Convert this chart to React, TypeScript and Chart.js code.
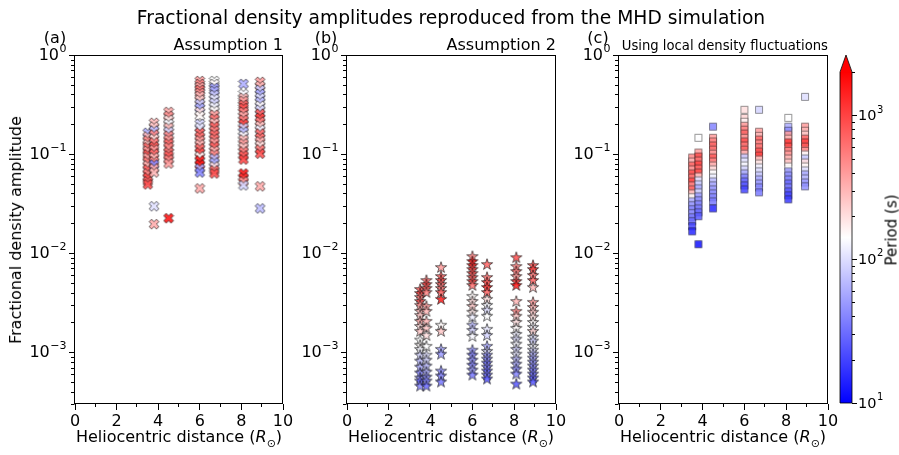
import React, { useEffect, useRef } from 'react';
import { Chart, registerables } from 'chart.js';
Chart.register(...registerables);

const FONT = "'DejaVu Sans', 'Liberation Sans', sans-serif";

// Heliocentric distances (R_sun) of the sampled columns
const distances = [3.5, 3.8, 4.5, 6.0, 6.7, 8.1, 8.9];

// Panel (a) Assumption 1: amplitudes and periods (s), one list per distance
const ampA = [
  [0.164, 0.150, 0.137, 0.125, 0.117, 0.108, 0.0989, 0.0923, 0.0841, 0.0766, 0.0699, 0.0637, 0.0580, 0.0529, 0.0494],
  [0.207, 0.189, 0.172, 0.157, 0.143, 0.131, 0.119, 0.111, 0.101, 0.0923, 0.0841, 0.0784, 0.0715, 0.0652, 0.0297, 0.0196],
  [0.267, 0.243, 0.222, 0.202, 0.185, 0.168, 0.153, 0.140, 0.128, 0.117, 0.104, 0.0966, 0.0881, 0.0803, 0.0225],
  [0.548, 0.511, 0.477, 0.445, 0.415, 0.387, 0.353, 0.322, 0.293, 0.267, 0.243, 0.202, 0.185, 0.164, 0.150, 0.137, 0.125, 0.114, 0.1036, 0.0945, 0.0861, 0.0784, 0.0715, 0.0652, 0.0450],
  [0.548, 0.511, 0.466, 0.435, 0.396, 0.361, 0.329, 0.300, 0.274, 0.249, 0.227, 0.207, 0.189, 0.172, 0.157, 0.143, 0.131, 0.119, 0.108, 0.0989, 0.0902, 0.0821, 0.0749, 0.0683, 0.0637],
  [0.511, 0.405, 0.370, 0.345, 0.314, 0.293, 0.267, 0.243, 0.222, 0.202, 0.185, 0.168, 0.153, 0.140, 0.128, 0.117, 0.106, 0.0966, 0.0881, 0.0637, 0.0580, 0.0529, 0.0483],
  [0.536, 0.488, 0.445, 0.405, 0.370, 0.337, 0.307, 0.280, 0.255, 0.232, 0.212, 0.193, 0.176, 0.161, 0.146, 0.134, 0.122, 0.111, 0.101, 0.0472, 0.0283],
];
const perA = [
  [60, 300, 500, 250, 700, 400, 900, 350, 600, 300, 800, 500, 1000, 700, 900],
  [300, 250, 70, 500, 200, 600, 800, 400, 700, 300, 500, 40, 350, 300, 100, 350],
  [350, 450, 180, 130, 300, 90, 500, 400, 700, 500, 600, 800, 500, 400, 1800],
  [400, 500, 350, 600, 450, 300, 250, 80, 60, 200, 150, 90, 110, 800, 600, 400, 300, 700, 900, 140, 1800, 1500, 60, 40, 350],
  [140, 150, 50, 60, 80, 110, 90, 130, 150, 400, 600, 250, 800, 500, 700, 600, 400, 800, 300, 500, 70, 60, 200, 700, 900],
  [60, 130, 300, 400, 700, 900, 500, 350, 600, 1000, 90, 70, 150, 300, 400, 250, 600, 800, 1000, 1800, 1200, 400, 90],
  [400, 300, 80, 60, 100, 70, 150, 90, 800, 1000, 500, 250, 120, 700, 600, 300, 200, 600, 900, 350, 70],
];

// Panel (b) Assumption 2
const ampB = [
  [0.00435, 0.00396, 0.00361, 0.00329, 0.00300, 0.00261, 0.00238, 0.00207, 0.00184, 0.00164, 0.00134, 0.00119, 0.00108, 0.000944, 0.000822, 0.000715, 0.000623, 0.000555, 0.000518, 0.000460],
  [0.00535, 0.00488, 0.00445, 0.00405, 0.00293, 0.00261, 0.00207, 0.00176, 0.00149, 0.00116, 0.000944, 0.000841, 0.000732, 0.000637, 0.000567, 0.000518, 0.000460],
  [0.00724, 0.00587, 0.00535, 0.00488, 0.00445, 0.00405, 0.00345, 0.00189, 0.00164, 0.00108, 0.000966, 0.000652, 0.000581, 0.000506],
  [0.00933, 0.00831, 0.00758, 0.00691, 0.00630, 0.00574, 0.00523, 0.00477, 0.00370, 0.00329, 0.00293, 0.00256, 0.00228, 0.00189, 0.00168, 0.00146, 0.00106, 0.000944, 0.000841, 0.000748, 0.000667, 0.000594],
  [0.00776, 0.00574, 0.00511, 0.00455, 0.00405, 0.00345, 0.00300, 0.00268, 0.00233, 0.00172, 0.00149, 0.00116, 0.00103, 0.000944, 0.000861, 0.000784, 0.000715, 0.000652, 0.000594, 0.000542],
  [0.00911, 0.00741, 0.00660, 0.00587, 0.00523, 0.00477, 0.00329, 0.00261, 0.00233, 0.00202, 0.00176, 0.00153, 0.00137, 0.00122, 0.00108, 0.000966, 0.000861, 0.000766, 0.000683, 0.000608, 0.000482],
  [0.00758, 0.00691, 0.00601, 0.00535, 0.00455, 0.00322, 0.00286, 0.00256, 0.00228, 0.00202, 0.00180, 0.00164, 0.00143, 0.00131, 0.00116, 0.00106, 0.000966, 0.000881, 0.000803, 0.000732, 0.000667, 0.000608, 0.000555, 0.000506],
];
const perB = [
  [700, 900, 500, 800, 400, 300, 250, 350, 200, 250, 140, 150, 130, 90, 70, 60, 40, 50, 30, 40],
  [600, 900, 700, 500, 400, 300, 300, 250, 200, 140, 100, 90, 70, 60, 45, 40, 30],
  [400, 700, 800, 600, 500, 700, 1500, 150, 250, 60, 50, 45, 40, 35],
  [500, 1500, 1200, 900, 800, 700, 900, 600, 150, 200, 250, 180, 120, 70, 90, 130, 50, 40, 45, 40, 50, 35],
  [700, 600, 900, 1200, 700, 200, 130, 100, 140, 110, 90, 60, 100, 50, 45, 35, 40, 30, 35, 25],
  [900, 500, 600, 400, 1000, 1500, 300, 500, 250, 200, 150, 120, 100, 130, 90, 110, 70, 60, 45, 40, 25],
  [800, 1000, 600, 700, 300, 400, 300, 250, 200, 150, 130, 220, 110, 90, 130, 100, 70, 60, 50, 45, 40, 35, 30, 25],
];

// Panel (c) Using local density fluctuations
const ampC = [
  [0.0923, 0.0841, 0.0766, 0.0699, 0.0637, 0.0580, 0.0529, 0.0483, 0.0440, 0.0401, 0.0366, 0.0333, 0.0304, 0.0277, 0.0253, 0.0230, 0.0210, 0.0187, 0.0166],
  [0.146, 0.1036, 0.0945, 0.0861, 0.0784, 0.0715, 0.0652, 0.0594, 0.0541, 0.0494, 0.0450, 0.0410, 0.0374, 0.0341, 0.0311, 0.0283, 0.0258, 0.0236, 0.0123],
  [0.189, 0.146, 0.134, 0.122, 0.111, 0.101, 0.0923, 0.0841, 0.0766, 0.0699, 0.0637, 0.0580, 0.0529, 0.0483, 0.0440, 0.0401, 0.0366, 0.0333, 0.0283],
  [0.280, 0.232, 0.212, 0.193, 0.176, 0.161, 0.146, 0.134, 0.122, 0.111, 0.101, 0.0923, 0.0841, 0.0766, 0.0699, 0.0637, 0.0580, 0.0529, 0.0483, 0.0440],
  [0.280, 0.168, 0.153, 0.140, 0.128, 0.117, 0.106, 0.0966, 0.0881, 0.0803, 0.0732, 0.0668, 0.0608, 0.0554, 0.0505, 0.0461, 0.0411],
  [0.232, 0.189, 0.172, 0.157, 0.143, 0.131, 0.119, 0.108, 0.0989, 0.0902, 0.0821, 0.0749, 0.0668, 0.0608, 0.0554, 0.0505, 0.0461, 0.0420, 0.0383, 0.0349],
  [0.378, 0.189, 0.172, 0.157, 0.143, 0.131, 0.119, 0.108, 0.0989, 0.0902, 0.0821, 0.0749, 0.0683, 0.0622, 0.0567, 0.0517, 0.0472],
];
const perC = [
  [500, 300, 700, 400, 900, 600, 1000, 500, 700, 250, 150, 60, 50, 40, 45, 35, 30, 20, 15],
  [140, 400, 900, 600, 1000, 700, 900, 250, 100, 80, 60, 90, 50, 45, 40, 35, 30, 25, 12],
  [40, 400, 500, 700, 600, 400, 800, 500, 300, 200, 140, 120, 70, 60, 50, 45, 40, 35, 15],
  [200, 220, 160, 400, 500, 700, 400, 900, 600, 700, 300, 80, 110, 130, 90, 60, 40, 30, 25, 20],
  [90, 400, 300, 700, 500, 600, 900, 1000, 250, 180, 120, 100, 80, 60, 50, 40, 35],
  [140, 60, 45, 400, 300, 1200, 900, 500, 400, 300, 250, 140, 50, 45, 40, 30, 35, 25, 20, 18],
  [100, 400, 300, 250, 700, 1000, 800, 400, 140, 80, 200, 150, 100, 60, 70, 50, 45],
];

// Axis ranges and tick values
const Y_MIN = 3e-4;
const Y_MAX = 1;
const yMajorTicks = [1e-3, 1e-2, 1e-1, 1];
const xTicks = [0, 1, 2, 3, 4, 5, 6, 7, 8, 9, 10];
const CB_MIN = 10;
const CB_MAX = 2000;
const cbMajorTicks = [10, 100, 1000];

const TICK_SIZE = 16;
const EXP_SIZE = 11;

function minorLogTicks(min: number, max: number) {
  const out: number[] = [];
  for (let e = Math.floor(Math.log10(min)); e <= Math.ceil(Math.log10(max)); e++) {
    for (let k = 2; k <= 9; k++) {
      const v = k * Math.pow(10, e);
      if (v >= min * 0.999 && v <= max * 1.001) out.push(v);
    }
  }
  return out;
}

// Draws "10^n" tick labels (base + raised exponent) next to a log scale
function drawPowLabels(
  ctx: CanvasRenderingContext2D,
  scale: any,
  values: number[],
  side: 'left' | 'right',
  edge: number,
  gap: number,
  size: number,
  expSize: number,
) {
  ctx.save();
  ctx.fillStyle = '#000';
  ctx.textBaseline = 'middle';
  ctx.textAlign = 'left';
  values.forEach((v) => {
    const y = scale.getPixelForValue(v);
    const base = '10';
    const exp = String(Math.round(Math.log10(v))).replace('-', '\u2212');
    ctx.font = `${size}px ${FONT}`;
    const wb = ctx.measureText(base).width;
    ctx.font = `${expSize}px ${FONT}`;
    const we = ctx.measureText(exp).width;
    const x0 = side === 'left' ? edge - gap - wb - we : edge + gap;
    ctx.font = `${size}px ${FONT}`;
    ctx.fillText(base, x0, y + 1);
    ctx.font = `${expSize}px ${FONT}`;
    ctx.fillText(exp, x0 + wb + 0.5, y - size * 0.37);
  });
  ctx.restore();
}

function bwr(p: number): [number, number, number] {
  let t = (Math.log10(p) - Math.log10(CB_MIN)) / (Math.log10(CB_MAX) - Math.log10(CB_MIN));
  t = Math.min(1, Math.max(0, t));
  if (t < 0.5) {
    const v = Math.round(255 * 2 * t);
    return [v, v, 255];
  }
  const v = Math.round(255 * 2 * (1 - t));
  return [255, v, v];
}

const markerCache = new Map<string, HTMLCanvasElement>();
function getMarker(shape: string, p: number) {
  const [r, g, b] = bwr(p);
  const key = `${shape}-${r}-${g}-${b}`;
  const hit = markerCache.get(key);
  if (hit) return hit;
  const S = shape === 'star' ? 14 : shape === 'x' ? 12 : 10;
  const c = document.createElement('canvas');
  c.width = S;
  c.height = S;
  const ctx = c.getContext('2d')!;
  ctx.translate(S / 2, S / 2);
  ctx.beginPath();
  if (shape === 'x') {
    const s = 10.4;
    const a = s / 2;
    const w = s / 6;
    const pts = [[-w, -a], [w, -a], [w, -w], [a, -w], [a, w], [w, w], [w, a], [-w, a], [-w, w], [-a, w], [-a, -w], [-w, -w]];
    const cs = Math.SQRT1_2;
    pts.forEach(([x, y], i) => {
      const X = (x - y) * cs;
      const Y = (x + y) * cs;
      if (i) ctx.lineTo(X, Y);
      else ctx.moveTo(X, Y);
    });
  } else if (shape === 'star') {
    const R = 5.9;
    const ri = R * 0.381966;
    for (let i = 0; i < 10; i++) {
      const ang = -Math.PI / 2 + (i * Math.PI) / 5;
      const rad = i % 2 ? ri : R;
      const X = Math.cos(ang) * rad;
      const Y = Math.sin(ang) * rad + 0.6;
      if (i) ctx.lineTo(X, Y);
      else ctx.moveTo(X, Y);
    }
  } else {
    ctx.rect(-3.5, -3.5, 7, 7);
  }
  ctx.closePath();
  ctx.fillStyle = `rgba(${r},${g},${b},0.85)`;
  ctx.fill();
  ctx.lineWidth = 0.75;
  ctx.strokeStyle = shape === 'square' ? 'rgba(0,0,0,0.55)' : 'rgba(0,0,0,0.8)';
  ctx.stroke();
  markerCache.set(key, c);
  return c;
}

const framePlugin = {
  id: 'frame',
  afterDraw(chart: any) {
    const { ctx, chartArea: a, scales } = chart;
    ctx.save();
    ctx.strokeStyle = '#000';
    ctx.lineWidth = 1;
    const L = Math.round(a.left) - 0.5;
    const T = Math.round(a.top) + 0.5;
    const R = Math.round(a.right) - 0.5;
    const B = Math.round(a.bottom) - 0.5;
    ctx.strokeRect(L, T, R - L, B - T);
    ctx.beginPath();
    xTicks.filter((v) => v % 2 === 1).forEach((v) => {
      const px = Math.round(scales.x.getPixelForValue(v)) - 0.5;
      ctx.moveTo(px, B);
      ctx.lineTo(px, B + 3.5);
    });
    minorLogTicks(Y_MIN, Y_MAX).forEach((v) => {
      const py = Math.round(scales.y.getPixelForValue(v)) + 0.5;
      ctx.moveTo(L, py);
      ctx.lineTo(L - 3.5, py);
    });
    ctx.stroke();
    ctx.restore();
    drawPowLabels(ctx, scales.y, yMajorTicks, 'left', a.left, 9, TICK_SIZE, EXP_SIZE);
  },
};

function panelConfig(shape: string, amps: number[][], pers: number[][], padRight: number) {
  const pts: { x: number; y: number; p: number }[] = [];
  distances.forEach((d, i) => {
    amps[i].forEach((a, j) => pts.push({ x: d, y: a, p: pers[i][j] }));
  });
  return {
    type: 'scatter' as const,
    data: {
      datasets: [
        {
          data: pts,
          pointStyle: (c: any) => (c.raw ? getMarker(shape, c.raw.p) : 'circle'),
          pointRadius: 5,
          pointHoverRadius: 5,
          borderWidth: 0,
        },
      ],
    },
    options: {
      responsive: false,
      animation: false as const,
      devicePixelRatio: 1,
      events: [],
      layout: { padding: { left: 0, right: padRight, top: 55, bottom: 21 } },
      plugins: { legend: { display: false }, tooltip: { enabled: false } },
      scales: {
        x: {
          type: 'linear' as const,
          min: 0,
          max: 10,
          afterBuildTicks: (s: any) => {
            s.ticks = xTicks.map((v) => ({ value: v }));
          },
          afterFit: (s: any) => {
            s.height = 30;
          },
          ticks: {
            autoSkip: false,
            maxRotation: 0,
            minRotation: 0,
            color: '#000',
            padding: 2,
            font: { family: FONT, size: TICK_SIZE },
            callback: (v: any) => (Number(v) % 2 === 0 ? String(v) : ''),
          },
          grid: {
            drawOnChartArea: false,
            drawTicks: true,
            tickLength: 6,
            tickWidth: 1,
            tickColor: (c: any) => (c.tick && c.tick.value % 2 === 0 ? '#000' : 'rgba(0,0,0,0)'),
          },
          border: { display: false },
        },
        y: {
          type: 'logarithmic' as const,
          min: Y_MIN,
          max: Y_MAX,
          afterBuildTicks: (s: any) => {
            s.ticks = yMajorTicks.map((v) => ({ value: v }));
          },
          afterFit: (s: any) => {
            s.width = 75;
          },
          ticks: {
            autoSkip: false,
            display: true,
            color: 'rgba(0,0,0,0)',
            font: { family: FONT, size: TICK_SIZE },
            callback: () => '',
          },
          grid: {
            drawOnChartArea: false,
            drawTicks: true,
            tickLength: 6,
            tickWidth: 1,
            tickColor: '#000',
          },
          border: { display: false },
        },
      },
    },
    plugins: [framePlugin],
  };
}

const colorbarPlugin = {
  id: 'cbar',
  afterDatasetsDraw(chart: any) {
    const { ctx, chartArea: a, scales } = chart;
    const cx = (a.left + a.right) / 2;
    const tip = 55;
    ctx.save();
    ctx.beginPath();
    ctx.moveTo(a.left, a.top + 0.5);
    ctx.lineTo(cx, tip);
    ctx.lineTo(a.right, a.top + 0.5);
    ctx.closePath();
    ctx.fillStyle = 'rgb(255,0,0)';
    ctx.fill();
    ctx.beginPath();
    ctx.moveTo(a.left, a.bottom);
    ctx.lineTo(a.left, a.top);
    ctx.lineTo(cx, tip);
    ctx.lineTo(a.right, a.top);
    ctx.lineTo(a.right, a.bottom);
    ctx.closePath();
    ctx.strokeStyle = '#000';
    ctx.lineWidth = 0.8;
    ctx.stroke();
    ctx.beginPath();
    ctx.lineWidth = 1;
    minorLogTicks(CB_MIN, CB_MAX).forEach((v) => {
      const py = Math.round(scales.y.getPixelForValue(v)) + 0.5;
      ctx.moveTo(a.right, py);
      ctx.lineTo(a.right + 3, py);
    });
    ctx.stroke();
    ctx.restore();
    drawPowLabels(ctx, scales.y, cbMajorTicks, 'right', a.right, 6, 14.5, 10);
  },
};

function colorbarConfig() {
  return {
    type: 'bar' as const,
    data: {
      labels: ['Period'],
      datasets: [
        {
          data: [[CB_MIN, CB_MAX]],
          barPercentage: 1,
          categoryPercentage: 1,
          borderWidth: 0,
          backgroundColor: (c: any) => {
            const a = c.chart.chartArea;
            if (!a) return 'rgb(255,255,255)';
            const g = c.chart.ctx.createLinearGradient(0, a.bottom, 0, a.top);
            g.addColorStop(0, 'rgb(0,0,255)');
            g.addColorStop(0.5, 'rgb(255,255,255)');
            g.addColorStop(1, 'rgb(255,0,0)');
            return g;
          },
        },
      ],
    },
    options: {
      responsive: false,
      animation: false as const,
      devicePixelRatio: 1,
      events: [],
      layout: { padding: { left: 14, right: 0, top: 72, bottom: 52 } },
      plugins: { legend: { display: false }, tooltip: { enabled: false } },
      scales: {
        x: { display: false },
        y: {
          type: 'logarithmic' as const,
          position: 'right' as const,
          min: CB_MIN,
          max: CB_MAX,
          afterBuildTicks: (s: any) => {
            s.ticks = cbMajorTicks.map((v) => ({ value: v }));
          },
          afterFit: (s: any) => {
            s.width = 47;
          },
          ticks: {
            autoSkip: false,
            color: 'rgba(0,0,0,0)',
            font: { family: FONT, size: 14 },
            callback: () => '',
          },
          grid: { drawOnChartArea: false, drawTicks: true, tickLength: 5, tickWidth: 1, tickColor: '#000' },
          border: { display: false },
        },
      },
    },
    plugins: [colorbarPlugin],
  };
}

function ChartCanvas({ config, left, width }: { config: () => any; left: number; width: number }) {
  const ref = useRef<HTMLCanvasElement>(null);
  useEffect(() => {
    const chart = new Chart(ref.current as HTMLCanvasElement, config());
    return () => chart.destroy();
  }, []);
  return (
    <canvas
      ref={ref}
      width={width}
      height={455}
      style={{ position: 'absolute', left, top: 0, width, height: 455 }}
    />
  );
}

const txt = (size: number): React.CSSProperties => ({
  position: 'absolute',
  fontFamily: FONT,
  fontSize: size,
  lineHeight: 1,
  whiteSpace: 'nowrap',
  color: '#000',
});

function XLabel({ cx }: { cx: number }) {
  return (
    <div style={{ ...txt(16), left: cx, top: 439, transform: 'translate(-50%,-50%)' }}>
      Heliocentric distance (<i>R</i>
      <sub style={{ fontSize: 11 }}>⊙</sub>)
    </div>
  );
}

export default function App() {
  return (
    <div style={{ position: 'absolute', left: 0, top: 0, width: 899, height: 455, background: '#fff', overflow: 'hidden' }}>
      <ChartCanvas config={() => panelConfig('x', ampA, perA, 17)} left={0} width={300} />
      <ChartCanvas config={() => panelConfig('star', ampB, perB, 16)} left={272} width={300} />
      <ChartCanvas config={() => panelConfig('square', ampC, perC, 16)} left={544} width={300} />
      <ChartCanvas config={colorbarConfig} left={826} width={73} />

      <div style={{ ...txt(18.7), left: 451, top: 18, transform: 'translate(-50%,-50%)' }}>
        Fractional density amplitudes reproduced from the MHD simulation
      </div>
      <div style={{ ...txt(16), left: 55, top: 38, transform: 'translate(-50%,-50%)' }}>(a)</div>
      <div style={{ ...txt(16), left: 326, top: 38, transform: 'translate(-50%,-50%)' }}>(b)</div>
      <div style={{ ...txt(16), left: 598, top: 38, transform: 'translate(-50%,-50%)' }}>(c)</div>
      <div style={{ ...txt(16), left: 283, top: 45, transform: 'translate(-100%,-50%)' }}>Assumption 1</div>
      <div style={{ ...txt(16), left: 556, top: 45, transform: 'translate(-100%,-50%)' }}>Assumption 2</div>
      <div style={{ ...txt(13.2), left: 828, top: 46, transform: 'translate(-100%,-50%)' }}>
        Using local density fluctuations
      </div>
      <div style={{ ...txt(16), left: 16, top: 230, transform: 'translate(-50%,-50%) rotate(-90deg)' }}>
        Fractional density amplitude
      </div>
      <div style={{ ...txt(15), left: 892, top: 230, transform: 'translate(-50%,-50%) rotate(-90deg)' }}>
        Period (s)
      </div>
      <XLabel cx={179} />
      <XLabel cx={451} />
      <XLabel cx={723} />
    </div>
  );
}
